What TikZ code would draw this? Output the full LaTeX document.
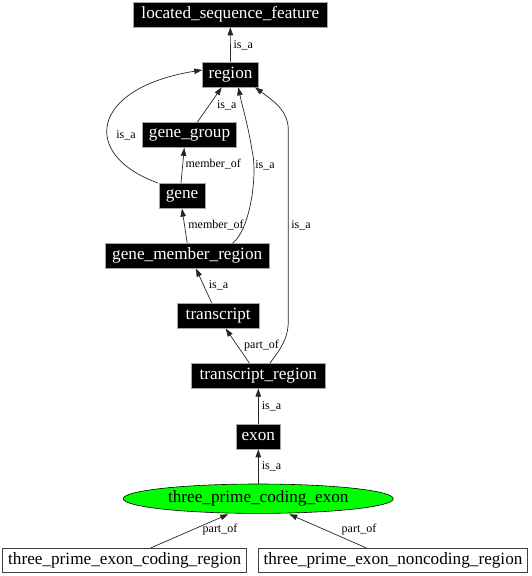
\documentclass[tikz,border=0pt]{standalone}
\usepackage{fontspec}
\setmainfont{Liberation Serif}
\usetikzlibrary{arrows.meta,shapes.geometric,calc}
\tikzset{
  blk/.style={rectangle,fill=black,draw=gray!70,line width=0.6pt,text=white,inner sep=0pt,minimum height=25pt,font=\fontsize{17.2}{20}\selectfont},
  wht/.style={rectangle,fill=white,draw=black!75,line width=0.7pt,text=black,inner sep=0pt,minimum height=24.4pt,font=\fontsize{17.2}{20}\selectfont},
  ell/.style={ellipse,fill=green,draw=black,line width=0.6pt,inner sep=0pt,minimum width=270pt,minimum height=29.4pt,font=\fontsize{17.2}{20}\selectfont},
  arr/.style={draw=black!85,line width=0.7pt,-{Triangle[length=8pt,width=5.5pt]}},
  lbl/.style={inner sep=0pt,font=\fontsize{12}{14}\selectfont}
}
\begin{document}
\begin{tikzpicture}[x=1pt,y=-1pt]
\useasboundingbox (0,0) rectangle (531,576);
\node[blk,minimum width=194pt] (lsf) at (230.3,14.5) {located\_sequence\_feature};
\node[blk,minimum width=56pt] (region) at (230.5,74.5) {region};
\node[blk,minimum width=94.4pt] (gg) at (189.5,135) {gene\_group};
\node[blk,minimum width=46pt] (gene) at (182,195.8) {gene};
\node[blk,minimum width=164.3pt] (gmr) at (187.2,255.8) {gene\_member\_region};
\node[blk,minimum width=81.7pt] (tr) at (218.2,315.8) {transcript};
\node[blk,minimum width=133.3pt] (trr) at (258.3,375.8) {transcript\_region};
\node[blk,minimum width=44.7pt] (exon) at (258.3,436.5) {exon};
\node[ell] (tpce) at (258.3,498.7) {three\_prime\_coding\_exon};
\node[wht,minimum width=244pt] (tpecr) at (124.7,560.5) {three\_prime\_exon\_coding\_region};
\node[wht,minimum width=269.4pt] (tpenr) at (393,560.5) {three\_prime\_exon\_noncoding\_region};

% region -> lsf
\draw[arr] (region.north) -- (lsf.south);
\node[lbl] (l1) at (243.3,45) {is\_a};
% gene_group -> region
\draw[arr] ([xshift=7.8pt]gg.north) -- ([xshift=-8.8pt]region.south);
\node[lbl] (l2) at (226.7,105) {is\_a};
% gene -> region
\draw[arr] ([xshift=-0.7pt]gene.north west) .. controls (80,155) and (90,88) .. ([yshift=4.5pt]region.west);
\node[lbl] (l3) at (126,135) {is\_a};
% gene -> gene_group
\draw[arr] ([xshift=-1pt]gene.north) -- ([xshift=-5.2pt]gg.south);
\node[lbl] (l4) at (213.3,164.3) {member\_of};
% gmr -> gene
\draw[arr] (gmr.north) -- (gene.south);
\node[lbl] (l5) at (216,225) {member\_of};
% gmr -> region
\draw[arr] ([xshift=45.5pt]gmr.north) .. controls (250,230) and (258,175) .. (252,150) .. controls (248,125) and (242,105) .. ([xshift=7.8pt]region.south);
\node[lbl] (l6) at (265,165) {is\_a};
% transcript -> gmr
\draw[arr] ([xshift=-6.5pt]tr.north) -- ([xshift=8.8pt]gmr.south);
\node[lbl] (l7) at (218.5,285) {is\_a};
% trr -> transcript
\draw[arr] ([xshift=-9pt]trr.north) -- ([xshift=7.5pt]tr.south);
\node[lbl] (l8) at (261.5,346) {part\_of};
% trr -> region
\draw[arr] ([xshift=11.7pt]trr.north) .. controls (282,347) and (288.3,338) .. (288.3,320) -- (288.3,130) .. controls (288.3,110) and (272,100) .. ([xshift=24.5pt]region.south);
\node[lbl] (l9) at (301,225) {is\_a};
% exon -> trr
\draw[arr] (exon.north) -- (trr.south);
\node[lbl,anchor=west] (l10) at (261.7,406) {is\_a};
% tpce -> exon
\draw[arr] (tpce.north) -- (exon.south);
\node[lbl,anchor=west] (l11) at (261.7,466) {is\_a};
% tpecr -> tpce
\draw[arr] ([xshift=26pt]tpecr.north) -- ([xshift=-30pt,yshift=-0.5pt]tpce.south);
\node[lbl] (l12) at (220,530) {part\_of};
% tpenr -> tpce
\draw[arr] ([xshift=-26.6pt]tpenr.north) -- ([xshift=31pt,yshift=-0.5pt]tpce.south);
\node[lbl] (l13) at (359,529.3) {part\_of};
\end{tikzpicture}
\end{document}
